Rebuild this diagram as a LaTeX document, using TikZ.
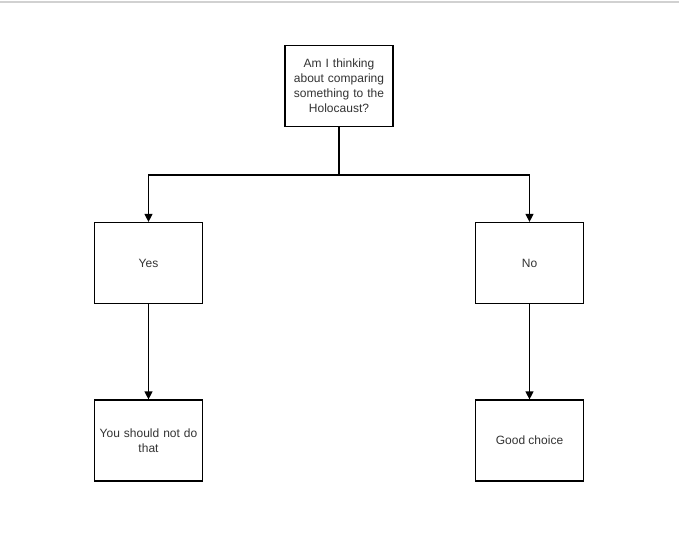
\documentclass[tikz,border=0pt]{standalone}
\usepackage{fontspec}
\setmainfont{Liberation Sans}
\usetikzlibrary{arrows.meta}
\begin{document}
\begin{tikzpicture}[x=1pt,y=-1pt,
  box/.style={draw=black,line width=1.2pt,fill=white,minimum width=108pt,minimum height=81pt,inner sep=2pt,align=center,font=\fontsize{12}{15}\selectfont,text=black!80},
  conn/.style={draw=black,line width=1.2pt,-{Triangle[length=8pt,width=8pt]}}]
\useasboundingbox (0,0) rectangle (679,553);
\draw[black!18,line width=1.5pt] (0,2) -- (679,2);
\node[box,text width=100pt] (q) at (339,86) {Am I thinking\\about comparing\\something to the\\Holocaust?};
\node[box] (yes) at (148.5,263) {Yes};
\node[box] (no) at (529.5,263) {No};
\node[box,text width=100pt] (yres) at (148.5,440.5) {You should not do\\that};
\node[box] (nres) at (529.5,440.5) {Good choice};
\coordinate (j) at (339,175);
\draw[conn] (q.south) -- (j) -| (yes.north);
\draw[conn] (j) -| (no.north);
\draw[conn] (yes) -- (yres);
\draw[conn] (no) -- (nres);
\end{tikzpicture}
\end{document}
